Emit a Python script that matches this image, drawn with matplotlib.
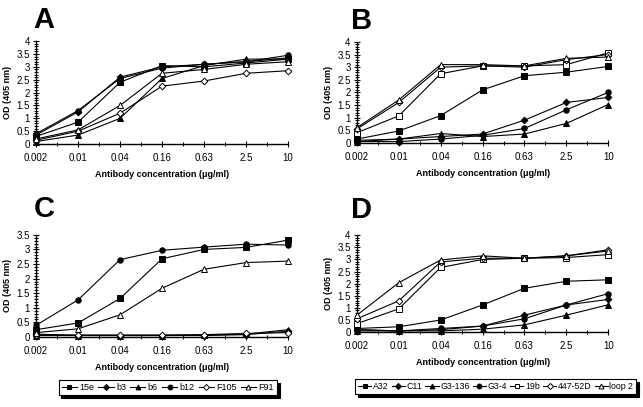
import matplotlib
matplotlib.use('Agg')
import matplotlib.pyplot as plt
from matplotlib.ticker import FixedLocator, MultipleLocator, FixedFormatter

FONT = ['Liberation Sans Narrow', 'Liberation Sans', 'DejaVu Sans']
plt.rcParams['font.family'] = FONT

conc_labels = ['0.002', '0.01', '0.04', '0.16', '0.63', '2.5', '10']

# Panel A / C antibodies
ac_names = ['15e', 'b3', 'b6', 'b12', 'F105', 'F91']
ac_markers = ['s', 'D', '^', 'o', 'D', '^']
ac_filled = [True, True, True, True, False, False]

a_15e = [0.30, 0.85, 2.40, 3.05, 3.00, 3.15, 3.30]
a_b3 = [0.35, 1.25, 2.60, 3.00, 3.10, 3.20, 3.35]
a_b6 = [0.10, 0.35, 1.00, 2.55, 3.05, 3.30, 3.30]
a_b12 = [0.40, 1.30, 2.55, 2.95, 3.10, 3.20, 3.45]
a_F105 = [0.15, 0.50, 1.20, 2.25, 2.45, 2.75, 2.85]
a_F91 = [0.20, 0.55, 1.50, 2.75, 2.90, 3.10, 3.20]

c_15e = [0.25, 0.48, 1.32, 2.68, 3.00, 3.07, 3.32]
c_b3 = [0.10, 0.05, 0.05, 0.05, 0.05, 0.08, 0.20]
c_b6 = [0.05, 0.05, 0.05, 0.05, 0.07, 0.10, 0.25]
c_b12 = [0.40, 1.27, 2.65, 2.97, 3.08, 3.18, 3.15]
c_F105 = [0.07, 0.07, 0.07, 0.07, 0.08, 0.12, 0.15]
c_F91 = [0.15, 0.28, 0.76, 1.67, 2.32, 2.55, 2.60]

# Panel B / D antibodies
bd_names = ['A32', 'C11', 'G3-136', 'G3-4', '19b', '447-52D', 'loop 2']
bd_markers = ['s', 'D', '^', 'o', 's', 'D', '^']
bd_filled = [True, True, True, True, False, False, False]

b_A32 = [0.15, 0.47, 1.08, 2.10, 2.66, 2.80, 3.03]
b_C11 = [0.10, 0.15, 0.25, 0.35, 0.90, 1.60, 1.80]
b_G3_136 = [0.05, 0.15, 0.37, 0.25, 0.35, 0.77, 1.52]
b_G3_4 = [0.05, 0.05, 0.15, 0.30, 0.57, 1.31, 2.00]
b_19b = [0.40, 1.07, 2.74, 3.05, 3.05, 3.10, 3.57]
b_447 = [0.55, 1.60, 3.00, 3.05, 3.00, 3.30, 3.50]
b_loop2 = [0.60, 1.70, 3.10, 3.10, 3.05, 3.35, 3.40]

d_A32 = [0.15, 0.22, 0.50, 1.12, 1.81, 2.10, 2.16]
d_C11 = [0.10, 0.05, 0.10, 0.25, 0.70, 1.12, 1.35]
d_G3_136 = [0.05, 0.05, 0.05, 0.12, 0.30, 0.70, 1.13]
d_G3_4 = [0.10, 0.05, 0.15, 0.25, 0.55, 1.12, 1.59]
d_19b = [0.35, 0.96, 2.67, 3.00, 3.05, 3.08, 3.20]
d_447 = [0.55, 1.29, 2.90, 3.05, 3.05, 3.15, 3.40]
d_loop2 = [0.70, 2.04, 2.98, 3.15, 3.05, 3.15, 3.35]

panels = [
    ('A', [0.056, 0.646, 0.392, 0.253], 4.0, ac_names, ac_markers, ac_filled,
     [a_15e, a_b3, a_b6, a_b12, a_F105, a_F91]),
    ('B', [0.555, 0.649, 0.391, 0.248], 4.0, bd_names, bd_markers, bd_filled,
     [b_A32, b_C11, b_G3_136, b_G3_4, b_19b, b_447, b_loop2]),
    ('C', [0.056, 0.172, 0.392, 0.251], 3.5, ac_names, ac_markers, ac_filled,
     [c_15e, c_b3, c_b6, c_b12, c_F105, c_F91]),
    ('D', [0.555, 0.184, 0.391, 0.238], 4.0, bd_names, bd_markers, bd_filled,
     [d_A32, d_C11, d_G3_136, d_G3_4, d_19b, d_447, d_loop2]),
]

fig = plt.figure(figsize=(6.43, 4.07), dpi=100)

handles_store = {}
for letter, rect, ymax, names, markers, filled, series in panels:
    ax = fig.add_axes(rect)
    x = list(range(len(conc_labels)))
    hs = []
    for name, m, f, vals in zip(names, markers, filled, series):
        ms = 3.9 if m != 'D' else 3.4
        h, = ax.plot(x, vals, color='black', lw=0.8, marker=m, ms=ms,
                     mfc='black' if f else 'white', mec='black', mew=0.7,
                     label=name, clip_on=False, zorder=3)
        hs.append(h)
    handles_store[letter] = hs
    ax.set_xlim(0, len(conc_labels) - 1)
    ax.set_ylim(0, ymax)
    for s in ['top', 'right']:
        ax.spines[s].set_visible(False)
    for s in ['left', 'bottom']:
        ax.spines[s].set_linewidth(1.0)
    ax.xaxis.set_major_locator(FixedLocator(x))
    ax.xaxis.set_major_formatter(FixedFormatter(conc_labels))
    ax.xaxis.set_minor_locator(FixedLocator([i + 0.5 for i in x[:-1]]))
    yt = [i * 0.5 for i in range(int(ymax / 0.5) + 1)]
    ax.yaxis.set_major_locator(FixedLocator(yt))
    ax.yaxis.set_major_formatter(FixedFormatter([('%g' % v) for v in yt]))
    ax.yaxis.set_minor_locator(MultipleLocator(0.1))
    ax.tick_params(axis='both', which='major', direction='inout', length=5,
                   width=0.8, labelsize=7, pad=2)
    ax.tick_params(axis='both', which='minor', direction='inout', length=3.5,
                   width=0.7)
    ax.tick_params(axis='x', which='major', pad=4)
    ax.set_xlabel('Antibody concentration (\u03bcg/ml)', fontsize=6.5,
                  fontweight='bold', labelpad=5)
    ax.set_ylabel('OD (405 nm)', fontsize=6.5, fontweight='bold', labelpad=3)
    ax.text(-0.01 if letter in 'AC' else -0.025, 1.07 if letter in 'AB' else 1.12,
            letter, transform=ax.transAxes, fontsize=21, fontweight='bold',
            family=['Liberation Sans', 'DejaVu Sans'], va='bottom', ha='left')

legkw = dict(frameon=True, borderpad=0.35, borderaxespad=0.0,
             fancybox=False, edgecolor='black', markerscale=0.9,
             shadow={'color': 'black', 'alpha': 1.0})
lg1 = fig.legend(handles=handles_store['A'], loc='center', ncol=6,
                 bbox_to_anchor=(0.261, 0.048), fontsize=6.5, handlelength=1.7,
                 handletextpad=0.25, columnspacing=0.45, **legkw)
lg2 = fig.legend(handles=handles_store['B'], loc='center', ncol=7,
                 bbox_to_anchor=(0.771, 0.050), fontsize=6.3, handlelength=1.5,
                 handletextpad=0.2, columnspacing=0.35, **legkw)
for lg in (lg1, lg2):
    lg.get_frame().set_linewidth(0.8)

fig.savefig('out.png', dpi=100)
